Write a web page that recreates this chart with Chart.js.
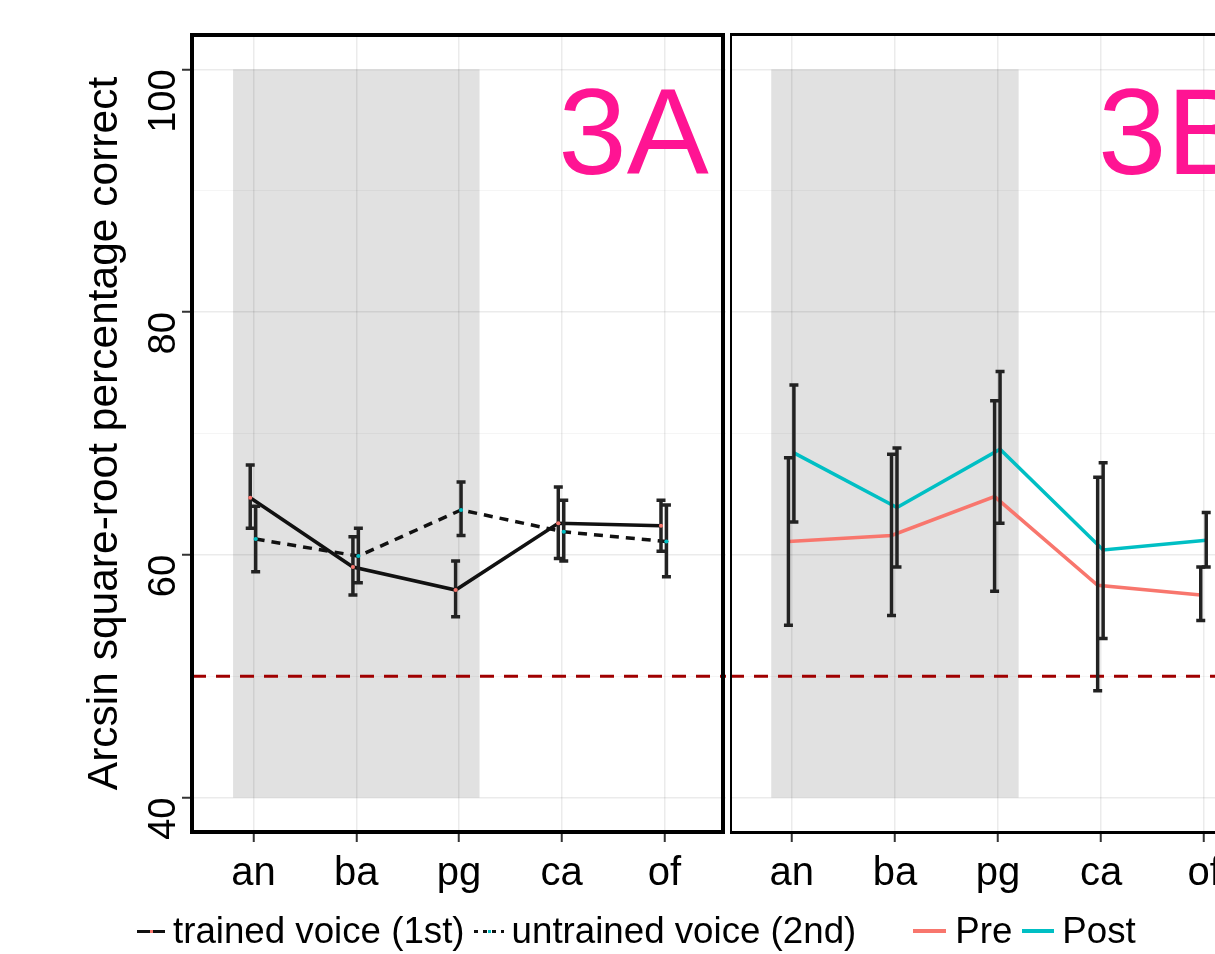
<!DOCTYPE html>
<html>
<head>
<meta charset="utf-8">
<script src="https://cdn.jsdelivr.net/npm/chart.js@4.4.0/dist/chart.umd.min.js"></script>
<style>
  html, body { margin: 0; padding: 0; background: #fff; }
  body { width: 1215px; height: 954px; overflow: hidden; position: relative; font-family: 'Liberation Sans', Arial, sans-serif; }
  #chartA { position: absolute; left: 0; top: 0; }
  #chartB { position: absolute; left: 730px; top: 0; }
  #legend { position: absolute; left: 137px; top: 911px; height: 40px; font-size: 36.7px; line-height: 40px;
            white-space: nowrap; display: flex; align-items: center; color: #000; }
  .key { display: inline-block; position: relative; height: 3px; }
  .key i { position: absolute; left: 50%; top: 0; width: 3px; height: 3px; margin-left: -1px; }
  .solid { width: 28px; background: #111; margin-right: 8px; }
  .dotted { width: 30px; margin-right: 8px; background: repeating-linear-gradient(to right, #111 0 4px, transparent 4px 9px); }
  .pre { width: 33px; height: 4px; background: #F8766D; margin-right: 9px; }
  .post { width: 32px; height: 4px; background: #00BFC4; margin-right: 8px; }
</style>
</head>
<body>
<canvas id="chartA" width="730" height="954"></canvas>
<canvas id="chartB" width="540" height="954"></canvas>
<div id="legend">
  <span class="key solid"><i style="background:#F8766D"></i></span><span style="margin-right:9px">trained voice (1st)</span>
  <span class="key dotted"><i style="background:#00BFC4"></i></span><span style="margin-right:57px">untrained voice (2nd)</span>
  <span class="key pre"></span><span style="margin-right:10px">Pre</span>
  <span class="key post"></span><span>Post</span>
</div>
<script>
const categories = ['an', 'ba', 'pg', 'ca', 'of'];
const shadedCats = ['an', 'pg'];
const chance = 50;
const yTicks = [40, 50, 60, 70, 80, 90, 100];
const panelLabels = ['3A', '3B'];

// panel 3A: trained vs untrained voice
const trainedMean = [64.7, 59.0, 57.1, 62.6, 62.4];
const trainedLow  = [62.2, 56.7, 54.9, 59.7, 60.3];
const trainedHigh = [67.4, 61.5, 59.5, 65.6, 64.5];
const untrainedMean = [61.3, 59.9, 63.7, 61.9, 61.1];
const untrainedLow  = [58.6, 57.7, 61.6, 59.5, 58.2];
const untrainedHigh = [64.0, 62.2, 66.0, 64.5, 64.1];

// panel 3B: pre vs post
const preMean = [61.1, 61.6, 64.8, 57.5, 56.7];
const preLow  = [54.2, 55.0, 57.0, 48.8, 54.6];
const preHigh = [68.0, 68.3, 72.7, 66.4, 59.0];
const postMean = [68.4, 63.9, 68.7, 60.4, 61.2];
const postLow  = [62.7, 59.0, 62.6, 53.1, 59.0];
const postHigh = [74.0, 68.8, 75.1, 67.6, 63.5];

const FONT = "'Liberation Sans', Arial, sans-serif";
Chart.defaults.font.family = FONT;

// position dodge, in category units
function pts(mean, low, high, d) {
  return mean.map((y, i) => ({ x: i + 1 + d, y, lo: low[i], hi: high[i] }));
}

const chanceLine = {
  data: [{ x: 0.4, y: chance }, { x: 5.6, y: chance }],
  borderColor: '#A00000', borderWidth: 3, borderDash: [14, 10], pointRadius: 0
};

const errorBars = {
  id: 'errorBars',
  afterDatasetsDraw(chart) {
    const { ctx, chartArea: a, scales: { x, y } } = chart;
    ctx.save();
    ctx.beginPath();
    ctx.rect(a.left, a.top, a.right - a.left, a.bottom - a.top);
    ctx.clip();
    ctx.strokeStyle = '#222';
    ctx.lineWidth = 3.5;
    chart.data.datasets.forEach(ds => {
      if (!ds.errorBars) return;
      ds.data.forEach(p => {
        const px = x.getPixelForValue(p.x);
        const top = y.getPixelForValue(p.hi), bot = y.getPixelForValue(p.lo);
        ctx.beginPath();
        ctx.moveTo(px, top); ctx.lineTo(px, bot);
        ctx.moveTo(px - 4.5, top); ctx.lineTo(px + 4.5, top);
        ctx.moveTo(px - 4.5, bot); ctx.lineTo(px + 4.5, bot);
        ctx.stroke();
      });
    });
    // put the points back on top of the bars
    chart.getSortedVisibleDatasetMetas().forEach(meta => meta.data.forEach(el => el.draw(ctx, a)));
    ctx.restore();
  }
};

const panelDecor = {
  id: 'panelDecor',
  beforeDraw(chart) {
    const { ctx, scales: { x, y } } = chart;
    const x0 = x.getPixelForValue(categories.indexOf(shadedCats[0]) + 1 - 0.2);
    const x1 = x.getPixelForValue(categories.indexOf(shadedCats[1]) + 1 + 0.2);
    const y0 = y.getPixelForValue(yTicks[yTicks.length - 1]);
    const y1 = y.getPixelForValue(yTicks[0]);
    ctx.save();
    ctx.fillStyle = '#e1e1e1';
    ctx.fillRect(x0, y0, x1 - x0, y1 - y0);
    ctx.restore();
  },
  afterDraw(chart, args, opts) {
    const { ctx, chartArea: a, scales: { x, y } } = chart;
    ctx.save();
    // panel label
    ctx.fillStyle = '#FF1493';
    ctx.font = '123px ' + FONT;
    ctx.textAlign = 'center';
    ctx.textBaseline = 'middle';
    ctx.fillText(opts.label, x.getPixelForValue(4.7), y.getPixelForValue(94.2));
    // frame
    ctx.strokeStyle = '#000';
    if (opts.first) {
      ctx.lineWidth = 4;
      ctx.strokeRect(a.left, a.top + 2, a.right - 3 - a.left, a.bottom - a.top - 4);
      // rotated y tick labels, ending at the tick
      ctx.fillStyle = '#000';
      ctx.font = '38px ' + FONT;
      ctx.textAlign = 'right';
      ctx.textBaseline = 'alphabetic';
      y.ticks.filter(t => t.value % 20 === 0).forEach(t => {
        ctx.save();
        ctx.translate(175, y.getPixelForValue(t.value));
        ctx.rotate(-Math.PI / 2);
        ctx.fillText(String(t.value), 0, 0);
        ctx.restore();
      });
    } else {
      ctx.lineWidth = 3;
      ctx.strokeRect(a.left + 0.5, a.top + 1.5, a.right - a.left + 20, a.bottom - a.top - 3);
    }
    ctx.restore();
  }
};

function makeScales(first) {
  return {
    x: {
      type: 'linear', min: 0.4, max: 5.6,
      afterBuildTicks: s => { s.ticks = categories.map((c, i) => ({ value: i + 1 })); },
      afterFit: s => { s.height = 120; },
      ticks: { callback: v => categories[v - 1], font: { size: 40 }, color: '#000', padding: 8, autoSkip: false, maxRotation: 0 },
      grid: { color: 'rgba(0,0,0,0.08)', lineWidth: 1.5, tickLength: 8, tickColor: '#333', tickWidth: 2 },
      border: { display: false }
    },
    y: {
      min: 37, max: 103,
      afterBuildTicks: s => { s.ticks = yTicks.map(v => ({ value: v })); },
      afterFit: s => { s.width = first ? 192 : 0; },
      ticks: { display: false },
      grid: {
        color: c => c.tick.value % 20 === 0 ? 'rgba(0,0,0,0.08)' : 'rgba(0,0,0,0.04)',
        lineWidth: c => c.tick.value % 20 === 0 ? 1.5 : 1,
        drawTicks: first, tickLength: 10, tickWidth: 2,
        tickColor: c => c.tick.value % 20 === 0 ? '#333' : 'rgba(0,0,0,0)'
      },
      title: {
        display: first, text: 'Arcsin square-root percentage correct',
        font: { size: 42.5 }, color: '#000', padding: { top: 80, bottom: 0 }
      },
      border: { display: false }
    }
  };
}

function baseOptions(first, label) {
  return {
    responsive: false,
    animation: false,
    layout: { padding: { top: 33, right: first ? 2 : 4, left: 0, bottom: 0 } },
    scales: makeScales(first),
    plugins: {
      legend: { display: false },
      tooltip: { enabled: false },
      panelDecor: { label, first }
    }
  };
}

new Chart(document.getElementById('chartA'), {
  type: 'line',
  data: {
    datasets: [
      chanceLine,
      { data: pts(trainedMean, trainedLow, trainedHigh, -0.033), errorBars: true,
        borderColor: '#111', borderWidth: 3.5, pointRadius: 2, pointBorderWidth: 0, pointBackgroundColor: '#F8766D' },
      { data: pts(untrainedMean, untrainedLow, untrainedHigh, 0.02), errorBars: true,
        borderColor: '#111', borderWidth: 3.5, borderDash: [9, 7], pointRadius: 2, pointBorderWidth: 0, pointBackgroundColor: '#00BFC4' }
    ]
  },
  options: baseOptions(true, panelLabels[0]),
  plugins: [panelDecor, errorBars]
});

new Chart(document.getElementById('chartB'), {
  type: 'line',
  data: {
    datasets: [
      { ...chanceLine, data: chanceLine.data.map(p => ({ ...p })) },
      { data: pts(preMean, preLow, preHigh, -0.033), errorBars: true,
        borderColor: '#F8766D', borderWidth: 3.5, pointRadius: 0 },
      { data: pts(postMean, postLow, postHigh, 0.02), errorBars: true,
        borderColor: '#00BFC4', borderWidth: 3.5, pointRadius: 0 }
    ]
  },
  options: baseOptions(false, panelLabels[1]),
  plugins: [panelDecor, errorBars]
});
</script>
</body>
</html>
